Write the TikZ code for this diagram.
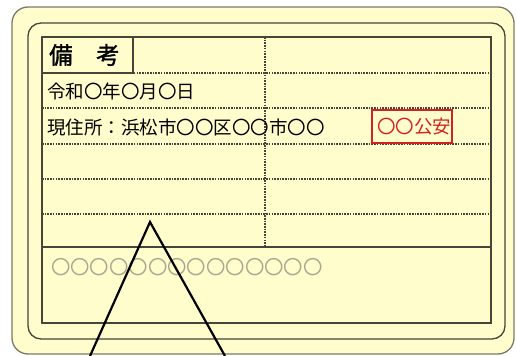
\documentclass[tikz,border=0pt]{standalone}
\usepackage{fontspec}
\newfontfamily\jp{Noto Sans CJK JP}
\newfontfamily\jpb[FakeBold=1.6]{Noto Sans CJK JP}
\definecolor{cardfill}{HTML}{FFFDCC}
\definecolor{edge}{HTML}{45453A}
\definecolor{outeredge}{HTML}{7A7A6A}
\definecolor{stampred}{HTML}{D42020}
\definecolor{ghost}{HTML}{A8A890}
\begin{document}
\begin{tikzpicture}[x=1pt,y=-1pt,
  dotline/.style={edge,line width=1.7pt,dash pattern=on 1.6pt off 1.1pt},
  solidline/.style={edge,line width=1.3pt},
  txt/.style={font=\jp\fontsize{18.5}{18.5}\selectfont,anchor=west,inner sep=0pt},
  ]
\useasboundingbox (0,0) rectangle (517,356);
% card
\draw[outeredge,line width=1.3pt,fill=cardfill,rounded corners=16pt] (12,7) rectangle (514,354);
\draw[solidline,rounded corners=13pt] (28,23) rectangle (505,339);
\draw[solidline] (42,37) rectangle (491,323);
% header box
\draw[solidline] (42,37) rectangle (133,73);
\node[font=\jpb\fontsize{23.5}{23.5}\selectfont,anchor=west,inner sep=0pt] (hdr) at (49,55) {備　考};
% dotted rows
\draw[dotline] (42,73) -- (491,73);
\draw[dotline] (42,108) -- (491,108);
\draw[dotline] (42,144) -- (491,144);
\draw[dotline] (42,179) -- (491,179);
\draw[dotline] (42,214) -- (491,214);
\draw[dotline] (265,37) -- (265,247);
\draw[solidline] (42,247) -- (491,247);
% texts
\node[txt] (date) at (47,91) {令和〇年〇月〇日};
\node[txt] (addr) at (47,127) {現住所：浜松市〇〇区〇〇市〇〇};
\node[draw=stampred,line width=2.2pt,minimum width=80pt,minimum height=33pt,inner sep=0pt] (stamp) at (412,126.5) {};
\node[txt,text=stampred] (police) at (377,127) {〇〇公安};
\node[font=\jp\fontsize{19.4}{19.4}\selectfont,anchor=west,inner sep=0pt,text=ghost] (num) at (51,267) {〇〇〇〇〇〇〇〇〇〇〇〇〇〇};
% triangle
\coordinate (apex) at (150,222);
\coordinate (bl) at (90,356);
\coordinate (br) at (225,356);
\draw[black,line width=2.2pt] (bl) -- (apex) -- (br);
\end{tikzpicture}
\end{document}
